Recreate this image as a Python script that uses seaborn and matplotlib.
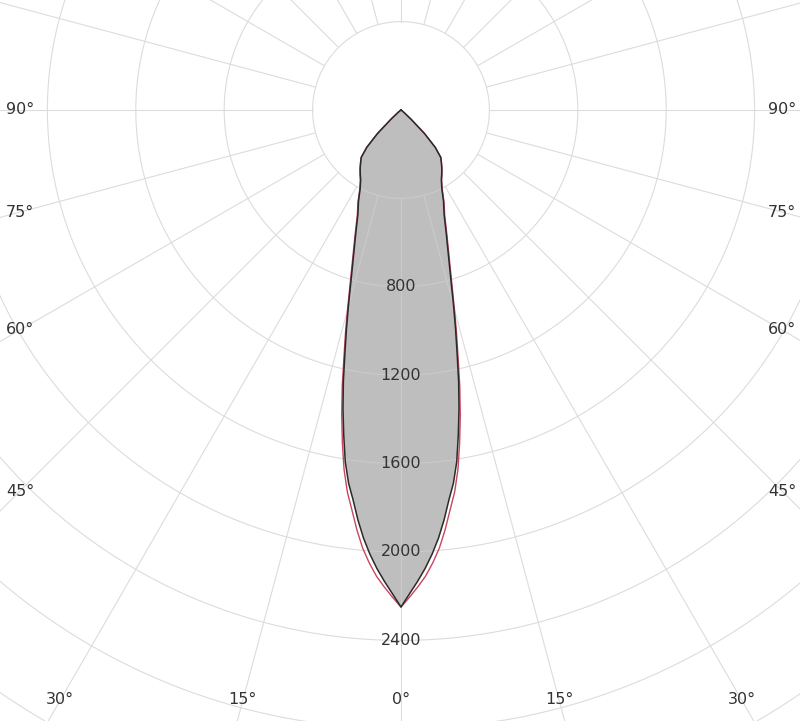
#!/usr/bin/env python3

import matplotlib

matplotlib.use("Agg")

import matplotlib.pyplot as plt
import numpy as np
import pandas as pd
import seaborn as sns

# gamma angles (deg from nadir) and luminous intensity (cd) for the two planes
gamma_deg = [0, 1, 2, 3, 4, 5, 6, 7, 8, 9, 10, 11, 12, 13, 14, 15,
             17.5, 20, 22.5, 25, 27.5, 30, 32.5, 35, 37.5, 40, 42.5, 45,
             47.5, 50, 55, 60, 70, 80, 90]
plane_c0 = [2249, 2190, 2135, 2078, 2015, 1945, 1865, 1778, 1705, 1612, 1493, 1376,
            1254, 1128, 1020, 920,
            725, 600, 509, 455, 400, 365, 343, 322, 300, 280, 230, 150,
            60, 20, 5, 0, 0, 0, 0]
plane_c90 = [2249, 2205, 2160, 2113, 2055, 1990, 1910, 1823, 1745, 1647, 1528, 1406,
             1279, 1148, 1038, 935,
             737, 610, 517, 461, 404, 368, 345, 323, 301, 280, 230, 150,
             60, 20, 5, 0, 0, 0, 0]

ring_values = [400, 800, 1200, 1600, 2000, 2400, 2800, 3200, 3600]
ring_labels = [800, 1200, 1600, 2000, 2400]
spoke_angles = list(range(0, 360, 15))
side_angles = [90, 75, 60, 45]
bottom_angles = [-30, -15, 0, 15, 30]

W, H = 800, 721
CX, CY = 401, 110          # pole position in pixels (from top-left)
PX_PER_CD = 88.4 / 400
R_MAX = 3600

GRID = "#dcdcdc"
GRID_IN = "#cacaca"
TEXT = "#333333"


def mirrored(values):
    ang = np.deg2rad(np.array(gamma_deg, dtype=float))
    val = np.array(values, dtype=float)
    theta = np.concatenate([-ang[::-1], ang[1:]])
    r = np.concatenate([val[::-1], val[1:]])
    return pd.DataFrame({"theta": theta, "cd": r})


def label_radius(a_deg):
    # labels sit on a rectangle inset from the picture edge
    a = np.deg2rad(abs(a_deg))
    dx, dy = CX - 20, (H - 21) - CY
    cands = []
    if np.sin(a) > 1e-6:
        cands.append(dx / np.sin(a))
    if np.cos(a) > 1e-6:
        cands.append(dy / np.cos(a))
    return min(cands) / PX_PER_CD


def draw_grid(ax, color, zorder, clip=None):
    full = np.linspace(0, 2 * np.pi, 721)
    lines = []
    for rv in ring_values:
        lines += ax.plot(full, np.full_like(full, rv), color=color, lw=0.8, zorder=zorder)
    for a in spoke_angles:
        t = np.deg2rad(a)
        lines += ax.plot([t, t], [ring_values[0], R_MAX], color=color, lw=0.8, zorder=zorder)
    if clip is not None:
        for ln in lines:
            ln.set_clip_path(clip)


def main():
    sns.set_theme(style="white")
    plt.rcParams["font.family"] = ["DejaVu Sans"]

    fig = plt.figure(figsize=(W / 100, H / 100), dpi=100)
    r_px = R_MAX * PX_PER_CD
    ax = fig.add_axes(
        [(CX - r_px) / W, (H - CY - r_px) / H, 2 * r_px / W, 2 * r_px / H],
        projection="polar",
    )
    ax.set_theta_zero_location("S")
    ax.set_ylim(0, R_MAX)
    ax.grid(False)
    ax.set_xticks([])
    ax.set_yticks([])
    ax.spines["polar"].set_visible(False)

    c0 = mirrored(plane_c0)
    c90 = mirrored(plane_c90)

    draw_grid(ax, GRID, zorder=1)
    poly = ax.fill(c0["theta"], c0["cd"], color="#bebebe", zorder=2, lw=0)[0]
    # faint grid showing through the filled area
    draw_grid(ax, GRID_IN, zorder=2.5, clip=poly)

    sns.lineplot(data=c90, x="theta", y="cd", sort=False, estimator=None,
                 color="#c8465e", lw=1.0, ax=ax, zorder=3)
    sns.lineplot(data=c0, x="theta", y="cd", sort=False, estimator=None,
                 color="#2a2a2a", lw=1.1, ax=ax, zorder=4)
    ax.set_xlabel("")
    ax.set_ylabel("")
    ax.set_ylim(0, R_MAX)

    for rv in ring_labels:
        ax.text(0, rv, str(rv), ha="center", va="center", fontsize=11.5,
                color=TEXT, zorder=5)

    for a in side_angles:
        for sgn in (-1, 1):
            ax.text(np.deg2rad(sgn * a), label_radius(a), f"{a}°", ha="center",
                    va="center", fontsize=11.5, color=TEXT, zorder=5)
    for a in bottom_angles:
        ax.text(np.deg2rad(a), label_radius(a), f"{abs(a)}°", ha="center",
                va="center", fontsize=11.5, color=TEXT, zorder=5)

    fig.savefig("out.png", dpi=100, facecolor="white")
    plt.close(fig)


if __name__ == "__main__":
    main()
